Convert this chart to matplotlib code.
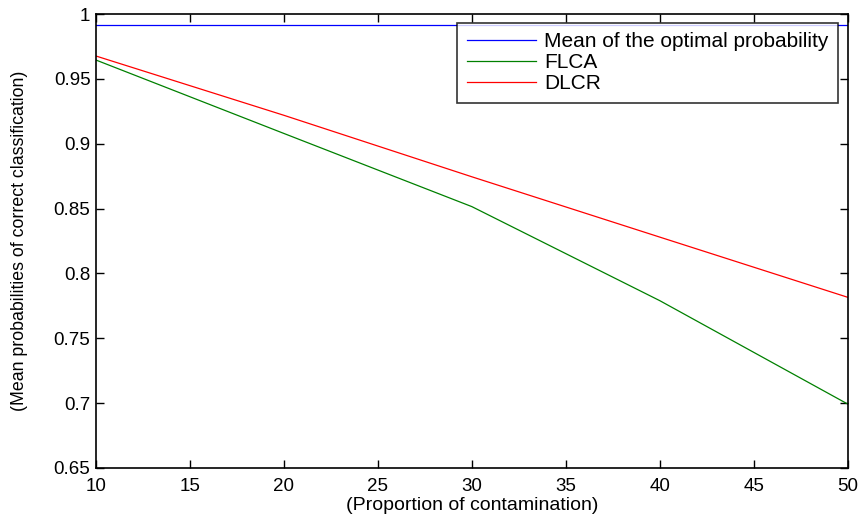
import numpy as np
import matplotlib.pyplot as plt

plt.rcParams['font.family'] = ['Liberation Sans', 'DejaVu Sans']

# Data
contamination = [10, 20, 30, 40, 50]
optimal = [0.9915, 0.9915, 0.9915, 0.9915, 0.9915]
flca = [0.9645, 0.9079, 0.8515, 0.779, 0.6993]
dlcr = [0.9676, 0.9219, 0.8745, 0.828, 0.7816]

fig = plt.figure(figsize=(8.58, 5.15), dpi=100)
ax = fig.add_axes([0.1119, 0.0913, 0.988 - 0.1119, 0.9728 - 0.0913])

ax.plot(contamination, optimal, color='#0000ff', lw=0.9, label='Mean of the optimal probability')
ax.plot(contamination, flca, color='#008000', lw=0.9, label='FLCA')
ax.plot(contamination, dlcr, color='#ff0000', lw=0.9, label='DLCR')

ax.set_xlim(10, 50)
ax.set_ylim(0.65, 1)
ax.set_xticks(np.arange(10, 51, 5))
ax.set_yticks([0.65, 0.7, 0.75, 0.8, 0.85, 0.9, 0.95, 1])
ax.set_yticklabels(['0.65', '0.7', '0.75', '0.8', '0.85', '0.9', '0.95', '1'])
ax.tick_params(direction='in', length=6, width=1, labelsize=13.5,
               top=True, right=True)
ax.tick_params(axis='x', pad=7)
ax.tick_params(axis='y', pad=4)
for s in ax.spines.values():
    s.set_linewidth(1.2)

ax.set_xlabel('(Proportion of contamination)', fontsize=14, labelpad=2)
ax.set_ylabel('(Mean probabilities of correct classification)', fontsize=12.8)
ax.yaxis.set_label_coords(-0.091, 0.5)

leg = ax.legend(loc='upper right', bbox_to_anchor=(0.9867, 0.981), fontsize=15,
                frameon=True, fancybox=False, edgecolor='black', borderaxespad=0,
                handlelength=3.3, handletextpad=0.4, labelspacing=0.1,
                borderpad=0.45)
leg.get_frame().set_linewidth(1.2)

fig.savefig('out.png', dpi=100)
